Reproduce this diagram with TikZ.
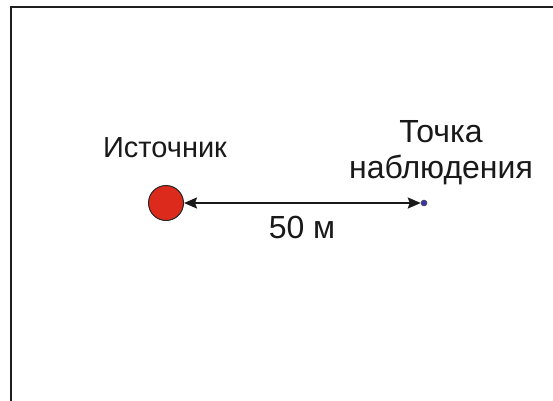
\documentclass[tikz,border=0pt]{standalone}
\usepackage{fontspec}
\setmainfont{Liberation Sans}
\usetikzlibrary{arrows.meta}
\definecolor{srcred}{HTML}{DC2A1C}
\definecolor{obsblue}{HTML}{3A34A0}
\definecolor{framegray}{HTML}{1E1E1E}
\tikzset{
  label text/.style={font=\fontsize{32}{37}\selectfont, text=black!90, inner sep=0pt, anchor=base},
  small label/.style={label text, font=\fontsize{29}{34}\selectfont},
  distarrow/.style={line width=1.8pt, draw=black!90,
    {Stealth[length=13pt,width=11pt,inset=2pt]}-{Stealth[length=13pt,width=11pt,inset=2pt]}}
}
\begin{document}
\begin{tikzpicture}[x=1pt,y=-1pt]
  \useasboundingbox (0,0) rectangle (553,400);
  \fill[white] (0,0) rectangle (553,400);
  % frame (continues beyond the page on the right and bottom)
  \begin{scope}
    \clip (0,0) rectangle (553,400);
    \draw[framegray, line width=2.2pt] (11,7) rectangle (700,500);
  \end{scope}
  % source and observation point
  \node[circle, draw=black!85, line width=1pt, fill=srcred, minimum size=35pt, inner sep=0pt] (src) at (166,203) {};
  \node[circle, draw=black!70, line width=0.5pt, fill=obsblue, minimum size=6pt, inner sep=0pt] (obs) at (424,203) {};
  \draw[distarrow] (src) -- (obs);
  % labels
  \node[small label] (srclbl) at (165,157) {Источник};
  \node[label text] (obslbl1) at (441,142) {Точка};
  \node[label text] (obslbl2) at (441,178) {наблюдения};
  \node[label text] (dist) at (302,238) {50 м};
\end{tikzpicture}
\end{document}
